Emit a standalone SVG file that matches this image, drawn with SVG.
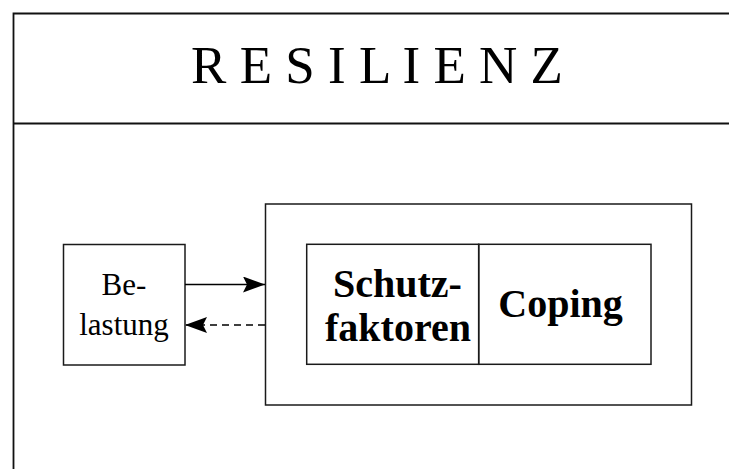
<svg xmlns="http://www.w3.org/2000/svg" width="729" height="469" viewBox="0 0 729 469">
<style>
.frame{fill:none;stroke:#111;stroke-width:1.8}
.box{fill:none;stroke:#1a1a1a;stroke-width:1.5}
.conn{fill:none;stroke:#000;stroke-width:1.6}
.dash{stroke-dasharray:7 5}
.t{font-family:"Liberation Serif","Times New Roman",serif;fill:#000;text-anchor:middle}
.b{font-weight:bold;font-size:40px}
</style>
<defs>
<marker id="ah" markerUnits="userSpaceOnUse" markerWidth="24" markerHeight="18" refX="22" refY="8" orient="auto">
<path d="M0,0 L22,8 L0,16 L4,8 z" fill="#000"/>
</marker>
</defs>
<rect width="729" height="469" fill="#fff"/>
<g id="frame">
<path class="frame" d="M740,13.5 H13.5 V480"/>
<path class="frame" d="M13.5,123.5 H740"/>
<text class="t" x="377" y="83" font-size="53">R E S I L I E N Z</text>
</g>
<g id="belastung">
<rect class="box" x="63.5" y="244.5" width="121.5" height="120.5"/>
<text class="t" x="124" y="295" font-size="31">Be-</text>
<text class="t" x="124" y="335" font-size="31">lastung</text>
</g>
<g id="resilienz-box">
<rect class="box" x="265.5" y="204" width="426" height="201"/>
</g>
<g id="schutzfaktoren">
<rect class="box" x="306.7" y="244.3" width="172" height="120"/>
<text class="t b" x="397.5" y="297">Schutz-</text>
<text class="t b" x="398" y="341">faktoren</text>
</g>
<g id="coping">
<rect class="box" x="478.7" y="244.3" width="172.3" height="120"/>
<text class="t b" x="560.5" y="317">Coping</text>
</g>
<g id="connectors">
<line class="conn" x1="185" y1="284.5" x2="265" y2="284.5" marker-end="url(#ah)"/>
<line class="conn dash" x1="265" y1="325" x2="185" y2="325" marker-end="url(#ah)"/>
</g>
</svg>
